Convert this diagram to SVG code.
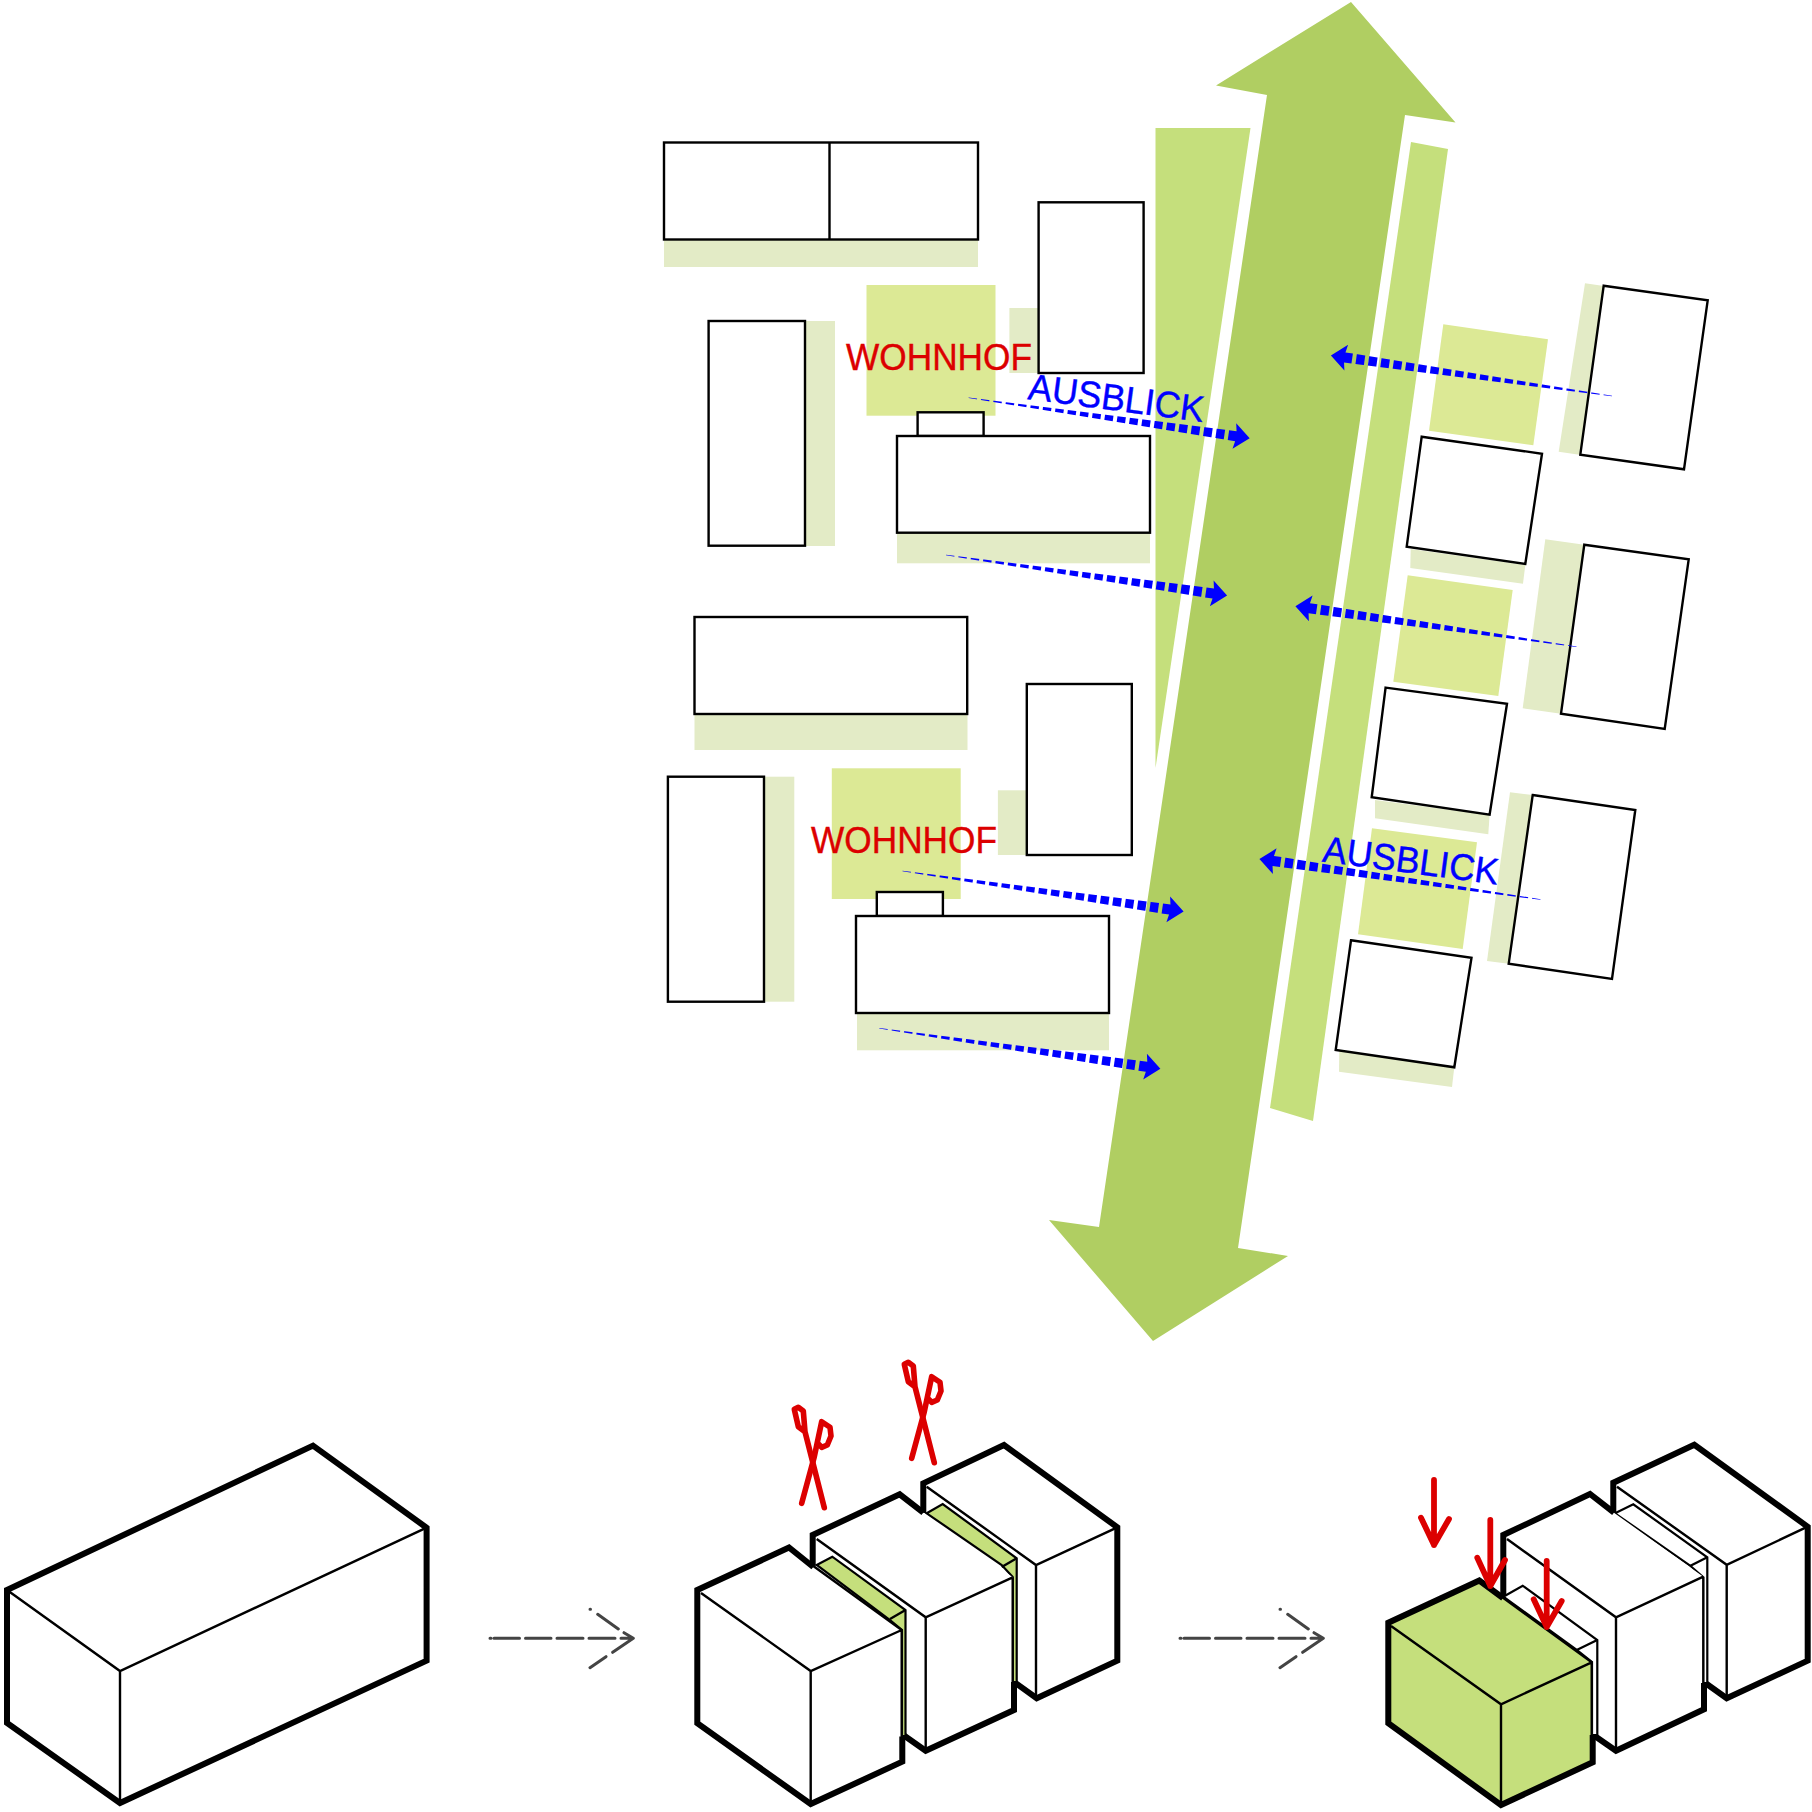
<svg xmlns="http://www.w3.org/2000/svg" xmlns:xlink="http://www.w3.org/1999/xlink" width="1812" height="1812" viewBox="0 0 1812 1812">
<style>
.b{fill:#fff;stroke:#000;stroke-width:2.4;stroke-linejoin:miter}
.sh{fill:#e3ebc6}
.yard{fill:#dce995}
.strip{fill:#c5df7c}
.th{fill:none;stroke:#000;stroke-width:6;stroke-linejoin:miter;stroke-linecap:butt}
.fw{fill:#fff;stroke:none}
.tn{fill:none;stroke:#000;stroke-width:2.4;stroke-linejoin:miter}
.gs{fill:#c5df7c;stroke:#000;stroke-width:2.2}
.ws{fill:#fff;stroke:#000;stroke-width:2.2}
.rd{fill:none;stroke:#dc0000;stroke-width:5.8;stroke-linecap:round;stroke-linejoin:round}
.sc{fill:none;stroke:#dc0000;stroke-width:5.6;stroke-linecap:round;stroke-linejoin:round}
.wh{font-family:"Liberation Sans",Arial,sans-serif;font-size:37px;fill:#dc0000;stroke:#dc0000;stroke-width:0.4}
.au{font-family:"Liberation Sans",Arial,sans-serif;font-size:37px;fill:#0000ff;stroke:#0000ff;stroke-width:0.4}
.gr{fill:none;stroke:#444;stroke-width:3;stroke-linecap:round}
</style>
<defs>
<mask id="dm" maskUnits="userSpaceOnUse" x="-2" y="-20" width="290" height="40">
<rect x="-2" y="-20" width="290" height="40" fill="#fff"/>
<g fill="#000">
<rect x="8.5" y="-20" width="4" height="40"/><rect x="21" y="-20" width="4" height="40"/><rect x="33.5" y="-20" width="4" height="40"/><rect x="46" y="-20" width="4" height="40"/><rect x="58.5" y="-20" width="4" height="40"/><rect x="71" y="-20" width="4" height="40"/><rect x="83.5" y="-20" width="4" height="40"/><rect x="96" y="-20" width="4" height="40"/><rect x="108.5" y="-20" width="4" height="40"/><rect x="121" y="-20" width="4" height="40"/><rect x="133.5" y="-20" width="4" height="40"/><rect x="146" y="-20" width="4" height="40"/><rect x="158.5" y="-20" width="4" height="40"/><rect x="171" y="-20" width="4" height="40"/><rect x="183.5" y="-20" width="4" height="40"/><rect x="196" y="-20" width="4" height="40"/><rect x="208.5" y="-20" width="4" height="40"/><rect x="221" y="-20" width="4" height="40"/><rect x="233.5" y="-20" width="4" height="40"/><rect x="246" y="-20" width="4" height="40"/><rect x="258.5" y="-20" width="4" height="40"/>
</g>
</mask>
<g id="view">
<path d="M0,-0.2L262.5,-5L270,-5L268.5,-13L284,0L268.5,13L270,5L262.5,5L0,0.2Z" fill="#0000ff" mask="url(#dm)"/>
</g>
<g id="scissors">
<path class="sc" d="M824.3,1507.7L805,1431.7L798.3,1426.7L794.3,1409.3L798.3,1407.3L803.3,1411L805,1431.7"/>
<path class="sc" d="M801.7,1503.3L814.3,1456.7L821.7,1421.7L830,1427.3L831,1436L827.3,1445L821.7,1447.3L817.7,1443.3"/>
</g>
<g id="next">
<path class="gr" d="M490,1638.3h1M494,1638.3h25.5M525.5,1638.3h25.5M557,1638.3h26M589,1638.3h26M621,1638.3H633M590,1609.3h0.5M597.7,1614.3L618.3,1629M624,1632.7L633.3,1638.3M590,1667.7L606,1656.7M612.7,1652.3L633.3,1638.3"/>
</g>
</defs>

<g id="axis-arrow"><polygon points="1351,2 1455.5,122.5 1405,115 1238,1248 1288,1256 1153,1341 1049,1220 1099,1227 1267,95 1216,85.5" fill="#b0ce62"/></g>
<g id="strip-left"><polygon class="strip" points="1155.5,128 1250.5,128 1155.5,768"/></g>
<g id="strip-right"><polygon class="strip" points="1411,142 1448,149 1313,1121 1270,1108"/></g>

<g id="block-a">
<rect class="sh" x="664" y="239" width="314" height="28"/>
<rect class="b" x="664" y="142.5" width="314" height="97"/>
<line class="tn" x1="829.5" y1="142.5" x2="829.5" y2="239"/>
</g>
<g id="block-b">
<rect class="sh" x="805" y="321" width="30" height="225"/>
<rect class="b" x="708.6" y="321" width="96.4" height="224.7"/>
</g>
<g id="yard-1"><rect class="yard" x="866.5" y="285" width="129" height="130.7"/></g>
<g id="block-c">
<rect class="sh" x="1009.4" y="308" width="30" height="65"/>
<rect class="b" x="1038.6" y="202.3" width="105" height="170.7"/>
</g>
<g id="block-d">
<rect class="sh" x="897" y="533" width="253" height="30.3"/>
<rect class="b" x="917.6" y="412.3" width="66" height="23.7"/>
<rect class="b" x="897" y="436" width="253" height="96.7"/>
</g>
<g id="block-e">
<rect class="sh" x="694.5" y="714" width="273" height="36"/>
<rect class="b" x="694.5" y="617" width="272.7" height="97"/>
</g>
<g id="block-f">
<rect class="sh" x="764" y="776.7" width="30.3" height="225"/>
<rect class="b" x="667.9" y="776.7" width="96.1" height="225"/>
</g>
<g id="yard-2"><rect class="yard" x="831.8" y="768.3" width="128.9" height="130.7"/></g>
<g id="block-g">
<rect class="sh" x="997.9" y="790.3" width="30" height="64.7"/>
<rect class="b" x="1026.8" y="684" width="105" height="171"/>
</g>
<g id="block-h">
<rect class="sh" x="857" y="1013" width="252" height="37.3"/>
<rect class="b" x="876.8" y="892" width="66.1" height="24"/>
<rect class="b" x="856" y="916" width="253" height="97"/>
</g>

<g id="yard-3"><polygon class="yard" points="1443.3,324.3 1548,339.3 1533.3,445.3 1429,430.7"/></g>
<g id="yard-4"><polygon class="yard" points="1407.7,575.3 1512.7,590 1498.3,696 1393.3,681.7"/></g>
<g id="yard-5"><polygon class="yard" points="1372,828.3 1477,842.3 1462.7,949 1358,934.3"/></g>
<g id="block-r1">
<polygon class="sh" points="1585,283.3 1604,286 1581,455 1558.7,451.7"/>
<polygon class="b" points="1603.7,285.7 1707.7,300.3 1684,469.3 1580.3,454.7"/>
</g>
<g id="block-r2">
<polygon class="sh" points="1410.7,549 1525.3,565 1523,583.7 1410.3,568"/>
<polygon class="b" points="1421.7,436.7 1542,453.7 1525.3,564 1406.7,546.7"/>
</g>
<g id="block-r3">
<polygon class="sh" points="1545.3,539.3 1584.3,544.7 1561,713.7 1522.7,708.3"/>
<polygon class="b" points="1584.3,544.7 1688.7,559.3 1664.7,729 1561,713.7"/>
</g>
<g id="block-r4">
<polygon class="sh" points="1375,800 1489.6,815 1488.3,834.3 1375,818.3"/>
<polygon class="b" points="1385.6,687.6 1507,703.8 1489.6,814.7 1371.7,797.3"/>
</g>
<g id="block-r5">
<polygon class="sh" points="1510,792.3 1532.7,795 1508.7,963.7 1487,961"/>
<polygon class="b" points="1532.7,795 1635.3,810 1612,979 1508.7,963.7"/>
</g>
<g id="block-r6">
<polygon class="sh" points="1339.3,1050 1454.3,1067.3 1452,1087 1339,1071.7"/>
<polygon class="b" points="1351,940.3 1471.5,957.7 1454.3,1067.3 1335.7,1050"/>
</g>

<g id="labels">
<text class="wh" x="846" y="370" textLength="186" lengthAdjust="spacingAndGlyphs">WOHNHOF</text>
<text class="wh" x="811" y="853" textLength="186" lengthAdjust="spacingAndGlyphs">WOHNHOF</text>
<text class="au" transform="translate(1027,399) rotate(7.5)" textLength="177" lengthAdjust="spacingAndGlyphs">AUSBLICK</text>
<text class="au" transform="translate(1321.5,861.5) rotate(7.5)" textLength="177" lengthAdjust="spacingAndGlyphs">AUSBLICK</text>
</g>

<g id="connectors">
<use href="#view" transform="translate(968.6,397.7) rotate(8.2)"/>
<use href="#view" transform="translate(946,555) rotate(8.2)"/>
<use href="#view" transform="translate(902.5,871) rotate(8.2)"/>
<use href="#view" transform="translate(879.3,1028.3) rotate(8.2)"/>
<use href="#view" transform="translate(1612,396) rotate(188.2)"/>
<use href="#view" transform="translate(1576.5,646.7) rotate(188.2)"/>
<use href="#view" transform="translate(1540.5,899.5) rotate(188.2)"/>
<use href="#next"/>
<use href="#next" transform="translate(690,0)"/>
</g>

<g id="box-single">
<polygon class="fw" points="7,1590 313,1445.6 426.6,1527.7 426.6,1660.6 120,1803 7,1723"/>
<path class="th" d="M7,1590L313,1445.6L426.6,1527.7V1660.6L120,1803L7,1723Z"/>
<path class="tn" d="M7,1590L120,1671L426.6,1527.7M120,1671V1803"/>
</g>

<g id="box-cut-back">
<polygon class="fw" points="923.3,1483.3 1004,1445 1117.3,1527.3 1117.3,1660.7 1036.7,1698.3 1015,1682.7 923.3,1600"/>
<path class="th" d="M923.3,1513V1483.3L1004,1445L1117.3,1527.3V1660.7L1036.7,1698.3L1015,1682.7"/>
<path class="tn" d="M926.7,1486.7L1036,1565L1117.3,1527.3M1036,1565V1698"/>
</g>
<g id="cut-strip-2">
<path class="gs" d="M926.7,1513.3L942.7,1504L1016.7,1558.3V1682H1012.7V1577L1001.7,1565Z"/>
<path class="tn" d="M1001.7,1567L1016.7,1558.3"/>
</g>
<g id="box-cut-middle">
<polygon class="fw" points="812.7,1535 899.7,1494.3 923.3,1512.7 1012.7,1577.3 1012.7,1710 925.7,1750.7 903.3,1735 812.7,1620"/>
<path class="th" d="M812.7,1566V1535L899.7,1494.3L923.3,1512.7M1014,1682V1710L925.7,1750.7L903.3,1735"/>
<path class="tn" d="M816.7,1539L925.7,1617.3L1012.7,1577.3M925.7,1617.3V1750.7M1012.7,1577.3V1682"/>
</g>
<g id="cut-strip-1">
<path class="gs" d="M816.7,1565L832.3,1556.7L905.5,1610V1736H902V1630L890,1620Z"/>
<path class="tn" d="M890,1619L905.5,1610"/>
</g>
<g id="box-cut-front">
<polygon class="fw" points="697.3,1590 789,1547 813.3,1565 901.7,1630 902.3,1761.7 810.7,1804 697.3,1723.3"/>
<path class="th" d="M813.3,1567L789,1547.5L697.3,1590V1723.3L810.7,1804L902.3,1761.7V1736.5"/>
<path class="tn" d="M701,1593L810.7,1671L901.7,1630M810.7,1671V1804M813.3,1566L901.7,1630V1737"/>
</g>
<use id="scissors-1" href="#scissors"/>
<use id="scissors-2" href="#scissors" transform="translate(110,-45)"/>

<g id="box-stack-back">
<polygon class="fw" points="1613.3,1482.7 1694.3,1444.8 1807.7,1526.7 1807.7,1660.7 1726.7,1698.3 1705,1682.7 1613.3,1600"/>
<path class="th" d="M1613.3,1513V1482.7L1694.3,1444.8L1807.7,1526.7V1660.7L1726.7,1698.3L1705,1682.7"/>
<path class="tn" d="M1617,1486.7L1726.7,1564.8L1807.7,1526.7M1726.7,1564.8V1698.3"/>
</g>
<g id="stack-strip-2">
<path class="ws" d="M1615,1513.3L1633.3,1504.3L1707.3,1557.3V1683H1703V1577L1690,1565.7Z"/>
<path class="tn" d="M1690,1566L1707.3,1557.3"/>
</g>
<g id="box-stack-middle">
<polygon class="fw" points="1503.3,1535 1590,1494 1614,1512.7 1703.3,1576.7 1703.3,1709 1616,1750.7 1593.3,1735 1503.3,1620"/>
<path class="th" d="M1503.3,1598V1535L1590,1494L1614,1512.7M1704,1683V1709.3L1616,1750.7L1593.3,1735"/>
<path class="tn" d="M1507,1539L1616,1617.3L1703.3,1576.7M1616,1617.3V1750.7M1703.3,1576.7V1683"/>
</g>
<g id="stack-strip-1">
<path class="ws" d="M1503.3,1596.7L1522.7,1585.7L1597.3,1640V1735H1592V1662L1576.7,1650Z"/>
<path class="tn" d="M1576.7,1650L1597.3,1640"/>
</g>
<g id="box-stack-front">
<polygon class="strip" points="1388.3,1622.7 1479.3,1580 1501.7,1596.7 1591.7,1662.3 1592.7,1762.3 1501,1805 1388.3,1723.3"/>
<path class="th" d="M1503,1598L1479.3,1580.5L1388.3,1622.7V1723.3L1501,1805L1592.7,1762.3V1735"/>
<path class="tn" d="M1391,1626L1501,1704.3L1591.7,1662.3M1501,1704.3V1805M1501.7,1596.7L1591.7,1662.3V1736"/>
</g>
<g id="drop-arrows">
<path class="rd" d="M1434,1480V1545M1421,1517.7L1434,1545L1449,1519"/>
<path class="rd" d="M1490.3,1520V1586M1477.3,1557.7L1490.3,1586L1505,1560"/>
<path class="rd" d="M1546.7,1561V1627M1533.7,1599.3L1546.7,1627L1561.7,1601"/>
</g>
</svg>
